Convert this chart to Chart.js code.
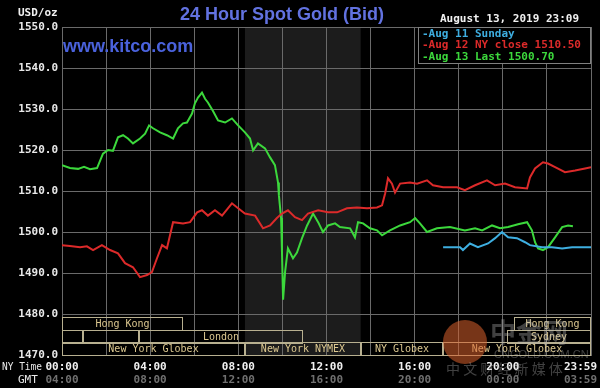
<!DOCTYPE html>
<html>
<head>
<meta charset="utf-8">
<script src="https://cdn.jsdelivr.net/npm/chart.js@4/dist/chart.umd.min.js"></script>
<style>
  html, body { margin: 0; padding: 0; background: #000; }
  canvas { display: block; }
</style>
</head>
<body>
<canvas id="chart" width="600" height="388"></canvas>
<script>
/* DATA (hours NY time, USD/oz) */
const greenHours = [0.00,0.36,0.73,1.00,1.27,1.59,1.86,2.09,2.31,2.54,2.77,2.99,3.22,3.54,3.77,3.95,4.13,4.45,4.76,5.04,5.26,5.49,5.67,5.90,6.03,6.17,6.35,6.49,6.62,6.85,7.08,7.40,7.71,7.99,8.30,8.53,8.67,8.89,9.21,9.44,9.66,9.80,9.84,9.94,9.98,10.03,10.12,10.25,10.48,10.66,10.89,11.12,11.39,11.62,11.84,12.07,12.39,12.61,13.07,13.29,13.43,13.66,13.97,14.29,14.52,14.88,15.34,15.79,16.02,16.24,16.56,17.01,17.60,18.28,18.74,19.06,19.51,19.87,20.24,20.69,21.10,21.32,21.46,21.60,21.82,22.05,22.37,22.69,22.96,23.18];
const greenValues = [1516.3,1515.6,1515.4,1515.9,1515.3,1515.6,1519.1,1520.0,1519.8,1523.1,1523.6,1522.8,1521.6,1522.8,1524.0,1526.0,1525.3,1524.3,1523.6,1522.8,1525.3,1526.5,1526.7,1528.9,1531.4,1532.8,1534.0,1532.5,1531.6,1529.5,1527.2,1526.7,1527.7,1526.0,1524.3,1522.8,1519.9,1521.6,1520.4,1518.2,1516.3,1512.1,1509.0,1503.4,1495.0,1483.5,1490.2,1496.0,1493.6,1495.0,1498.5,1501.6,1504.5,1502.4,1500.0,1501.6,1502.1,1501.2,1500.9,1498.7,1502.4,1502.1,1500.9,1500.4,1499.2,1500.4,1501.6,1502.4,1503.4,1502.1,1500.0,1500.9,1501.2,1500.4,1500.9,1500.4,1501.6,1500.9,1501.2,1501.9,1502.4,1500.4,1497.5,1496.0,1495.6,1496.3,1498.7,1501.2,1501.6,1501.4];

const redHours = [0.00,0.36,0.82,1.13,1.41,1.81,2.18,2.54,2.86,3.22,3.54,3.86,4.08,4.31,4.54,4.76,4.90,5.04,5.49,5.81,6.13,6.35,6.62,6.94,7.26,7.71,7.99,8.30,8.76,9.12,9.44,9.75,9.98,10.25,10.57,10.89,11.16,11.62,12.07,12.48,12.93,13.38,13.84,14.29,14.52,14.66,14.79,14.97,15.11,15.34,15.79,16.11,16.56,16.83,17.29,17.92,18.28,18.74,19.28,19.65,20.10,20.55,21.10,21.23,21.46,21.82,22.05,22.37,22.82,23.28,23.73,24.00];
const redValues = [1496.8,1496.6,1496.3,1496.5,1495.6,1496.8,1495.6,1494.8,1492.4,1491.4,1489.0,1489.5,1490.2,1493.6,1496.8,1496.0,1499.2,1502.4,1502.1,1502.4,1504.8,1505.3,1504.0,1505.3,1504.0,1507.0,1505.8,1504.5,1504.0,1500.9,1501.6,1503.4,1504.5,1505.3,1503.6,1502.9,1504.5,1505.3,1504.8,1504.8,1505.8,1506.0,1505.8,1506.0,1506.5,1509.4,1513.1,1511.8,1509.6,1511.8,1512.1,1511.8,1512.6,1511.4,1510.9,1510.9,1510.2,1511.4,1512.6,1511.4,1511.8,1510.9,1510.6,1513.3,1515.5,1517.0,1516.7,1515.8,1514.6,1515.0,1515.5,1515.8];

const blueHours = [17.29,17.83,18.06,18.19,18.51,18.87,19.33,19.65,19.96,20.24,20.64,21.01,21.23,21.78,22.23,22.69,23.14,23.73,24.00];
const blueValues = [1496.3,1496.3,1496.3,1495.6,1497.2,1496.3,1497.2,1498.5,1500.0,1498.7,1498.5,1497.5,1496.8,1496.3,1496.3,1496.0,1496.3,1496.3,1496.3];

const xTickHours = [0, 4, 8, 12, 16, 20, 24];
const nyLabels = ["00:00", "04:00", "08:00", "12:00", "16:00", "20:00", "23:59"];
const gmtLabels = ["04:00", "08:00", "12:00", "16:00", "20:00", "00:00", "03:59"];

const legendTexts = ["Aug 11 Sunday", "Aug 12 NY close 1510.50", "Aug 13 Last 1500.70"];

// sessions: name, start hour, end hour, row
const sessionNames = ["Hong Kong", "Hong Kong", "", "", "London", "Sydney", "New York Globex", "New York NYMEX", "NY Globex", "New York Globex"];
const sessionStart = [0, 20.5, 0, 0.95, 3.5, 20.2, 0, 8.3, 13.55, 17.3];
const sessionEnd = [5.5, 24, 0.95, 3.5, 10.95, 24, 8.3, 13.55, 17.3, 24];
const sessionRow = [0, 0, 1, 1, 1, 1, 2, 2, 2, 2];

const shadeFrom = 8.3, shadeTo = 13.55;

const MONO = '"DejaVu Sans Mono", "Liberation Mono", monospace';
const GREEN = "#3cd83c", RED = "#dc2a2a", BLUE = "#3eaee0";

const pts = (hs, vs) => hs.map((h, i) => ({ x: h, y: vs[i] }));

const decor = {
  id: "decor",
  beforeDraw(c) {
    const ctx = c.ctx, a = c.chartArea, x = c.scales.x;
    ctx.save();
    ctx.fillStyle = "#000";
    ctx.fillRect(0, 0, c.width, c.height);
    ctx.fillStyle = "#1c1c1c";
    const x0 = x.getPixelForValue(shadeFrom), x1 = x.getPixelForValue(shadeTo);
    ctx.fillRect(x0, a.top, x1 - x0, a.bottom - a.top);
    ctx.restore();
  },
  afterDraw(c) {
    const ctx = c.ctx, a = c.chartArea, x = c.scales.x, y = c.scales.y;
    ctx.save();

    // session boxes
    const rowTop = y.getPixelForValue(1480) + 3;
    const rowH = (a.bottom - rowTop) / 3;
    ctx.strokeStyle = "#b8b090";
    ctx.lineWidth = 1;
    ctx.font = "10px " + MONO;
    ctx.textAlign = "center";
    ctx.textBaseline = "middle";
    sessionNames.forEach((n, i) => {
      const sx = Math.round(x.getPixelForValue(sessionStart[i])) + 0.5;
      const ex = Math.round(x.getPixelForValue(sessionEnd[i])) - 0.5;
      const ty = Math.round(rowTop + sessionRow[i] * rowH) + 0.5;
      ctx.strokeRect(sx, ty, ex - sx, Math.round(rowH));
      if (n) {
        ctx.fillStyle = "#dcc890";
        ctx.fillText(n, (sx + ex) / 2, ty + rowH / 2 + 0.5);
      }
    });

    // legend box
    ctx.fillStyle = "#000";
    ctx.fillRect(418, 27, 173, 36);
    ctx.strokeStyle = "#808080";
    ctx.strokeRect(418.5, 27.5, 172, 36);
    ctx.font = "bold 11px " + MONO;
    ctx.textAlign = "left";
    [BLUE, RED, GREEN].forEach((col, i) => {
      ctx.fillStyle = col;
      ctx.fillText("-" + legendTexts[i], 422, 34 + i * 11.5);
    });

    // titles
    ctx.fillStyle = "#6272e0";
    ctx.font = 'bold 18px "Liberation Sans", Arial, sans-serif';
    ctx.fillText("24 Hour Spot Gold (Bid)", 180, 15);
    ctx.fillStyle = "#4a62dc";
    ctx.fillText("www.kitco.com", 63, 47);

    ctx.fillStyle = "#f0f0f0";
    ctx.font = "bold 11px " + MONO;
    ctx.fillText("USD/oz", 18, 13);
    ctx.fillText("August 13, 2019 23:09", 440, 19);

    // x labels
    ctx.font = "11px " + MONO;
    ctx.fillStyle = "#e8e8e8";
    ctx.fillText("NY Time", 2, 367, 40);
    ctx.fillText("GMT", 18, 380);
    ctx.font = "bold 11px " + MONO;
    ctx.textAlign = "center";
    xTickHours.forEach((h, i) => {
      let px = x.getPixelForValue(h);
      const w = ctx.measureText(nyLabels[i]).width;
      if (px + w / 2 > 597) px = 597 - w / 2;
      ctx.fillStyle = "#f0f0f0";
      ctx.fillText(nyLabels[i], px, 367);
      ctx.fillStyle = "#707070";
      ctx.fillText(gmtLabels[i], px, 380);
    });

    // watermark
    ctx.globalAlpha = 0.55;
    ctx.fillStyle = "#d8602c";
    ctx.beginPath();
    ctx.arc(465, 342, 22, 0, Math.PI * 2);
    ctx.fill();
    ctx.globalAlpha = 0.35;
    ctx.fillStyle = "#bbbbbb";
    ctx.font = 'bold 26px "Noto Sans CJK SC", sans-serif';
    ctx.textAlign = "left";
    ctx.fillText("中金网", 490, 332);
    ctx.font = '11px "Liberation Sans", sans-serif';
    ctx.fillText("CNGOLD.COM.CN", 494, 355);
    ctx.font = '14px "Noto Sans CJK SC", sans-serif';
    ctx.fillText("中 文 财 经 新 媒 体", 446, 369);
    ctx.restore();
  }
};

new Chart(document.getElementById("chart"), {
  type: "line",
  data: {
    datasets: [
      { data: pts(redHours, redValues), borderColor: RED },
      { data: pts(blueHours, blueValues), borderColor: BLUE },
      { data: pts(greenHours, greenValues), borderColor: GREEN }
    ]
  },
  options: {
    responsive: false,
    animation: false,
    devicePixelRatio: 1,
    layout: { padding: { left: 0, top: 27, right: 9, bottom: 33 } },
    elements: {
      point: { radius: 0 },
      line: { borderWidth: 2, tension: 0 }
    },
    plugins: { legend: { display: false }, tooltip: { enabled: false } },
    scales: {
      x: {
        type: "linear", min: 0, max: 24,
        afterFit: s => { s.height = 0; },
        ticks: { stepSize: 2, display: false },
        grid: { color: "#6a6a6a", drawTicks: false },
        border: { color: "#6a6a6a" }
      },
      y: {
        min: 1470, max: 1550,
        afterFit: s => { s.width = 62; },
        ticks: {
          stepSize: 10, padding: 4,
          color: "#e8e8e8",
          font: { family: MONO, size: 11, weight: "bold" },
          callback: v => v.toFixed(1)
        },
        grid: { color: "#6a6a6a", drawTicks: false },
        border: { color: "#6a6a6a" }
      }
    }
  },
  plugins: [decor]
});
</script>
</body>
</html>
